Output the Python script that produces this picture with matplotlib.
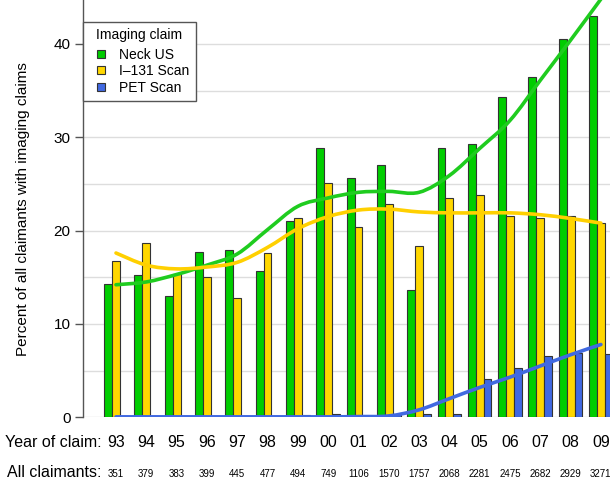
import numpy as np
import matplotlib
matplotlib.use('Agg')
import matplotlib.pyplot as plt
from matplotlib.path import Path
from matplotlib.patches import PathPatch
from matplotlib.lines import Line2D
from matplotlib import transforms

plt.rcParams['font.family'] = ['Liberation Sans', 'DejaVu Sans']

# yearly share of claimants (%) per imaging type
years = ['93', '94', '95', '96', '97', '98', '99', '00', '01',
         '02', '03', '04', '05', '06', '07', '08', '09']
claimants = [351, 379, 383, 399, 445, 477, 494, 749, 1106,
             1570, 1757, 2068, 2281, 2475, 2682, 2929, 3271]
neck_us = [14.25, 15.25, 13.0, 17.7, 17.9, 15.7, 21.0, 28.8, 25.6,
           27.0, 13.6, 28.8, 29.3, 34.3, 36.4, 40.5, 43.0]
i131_scan = [16.75, 18.65, 15.35, 15.0, 12.75, 17.6, 21.4, 25.1, 20.4,
             22.9, 18.4, 23.5, 23.8, 21.6, 21.3, 21.6, 20.8]
pet_scan = [0.1, 0.1, 0.1, 0.1, 0.1, 0.1, 0.2, 0.35, 0.1,
            0.2, 0.35, 0.35, 4.1, 5.3, 6.6, 6.9, 6.8]

# smoothed trend values at each year
neck_us_trend = [14.2, 14.5, 15.3, 16.3, 17.5, 20.1, 22.6, 23.5, 24.1,
                 24.2, 24.1, 25.9, 28.8, 31.8, 36.1, 40.4, 44.8]
i131_trend = [17.6, 16.3, 15.9, 16.1, 16.6, 18.2, 20.2, 21.5, 22.2,
              22.3, 22.0, 21.9, 21.9, 21.9, 21.7, 21.3, 20.8]
pet_trend = [0.05, 0.05, 0.05, 0.05, 0.05, 0.05, 0.05, 0.05, 0.08,
             0.15, 0.8, 2.0, 3.2, 4.3, 5.5, 6.7, 7.8]

GREEN = '#00cd00'
GOLD = '#ffd700'
BLUE = '#4169e1'
EDGE = '#333333'


def trend_patch(x, y, color):
    # Catmull-Rom curve through the trend values, drawn as cubic Beziers
    pts = np.column_stack([x, y]).astype(float)
    n = len(pts)
    verts = [pts[0]]
    codes = [Path.MOVETO]
    for i in range(n - 1):
        p0 = pts[max(i - 1, 0)]
        p1 = pts[i]
        p2 = pts[i + 1]
        p3 = pts[min(i + 2, n - 1)]
        verts += [p1 + (p2 - p0) / 6, p2 - (p3 - p1) / 6, p2]
        codes += [Path.CURVE4] * 3
    return PathPatch(Path(verts, codes), fill=False, edgecolor=color,
                     lw=2.6, capstyle='round', zorder=4)


fig = plt.figure(figsize=(6.10, 4.82), dpi=100)
ax = fig.add_axes([0.136, 0.1342, 0.864, 0.8658])

x = np.arange(len(years))
w = 0.26
ax.bar(x - w, neck_us, w, color=GREEN, edgecolor=EDGE, lw=0.8, zorder=3)
ax.bar(x, i131_scan, w, color=GOLD, edgecolor=EDGE, lw=0.8, zorder=3)
ax.bar(x + w, pet_scan, w, color=BLUE, edgecolor=EDGE, lw=0.8, zorder=3)

ax.add_patch(trend_patch(x, neck_us_trend, '#1fcc1f'))
ax.add_patch(trend_patch(x, i131_trend, '#ffd000'))
ax.add_patch(trend_patch(x, pet_trend, BLUE))

ax.set_xlim(-1.09, 16.3)
ax.set_ylim(0, 44.7)
ax.set_yticks([0, 10, 20, 30, 40])
ax.set_yticks(np.arange(5, 45, 10), minor=True)
ax.grid(axis='y', which='both', color='#dddddd', lw=1)
ax.set_axisbelow(True)
ax.tick_params(axis='y', which='major', length=6, width=1, color='#555555',
               labelsize=11, pad=3)
ax.tick_params(axis='y', which='minor', length=0)
ax.set_xticks([])
for side in ['top', 'right', 'bottom']:
    ax.spines[side].set_visible(False)
ax.spines['left'].set_color('#555555')
ax.spines['left'].set_linewidth(1)
ax.set_ylabel('Percent of all claimants with imaging claims', fontsize=11,
              labelpad=17)

handles = [Line2D([], [], ls='none', marker='s', markersize=6,
                  markerfacecolor=c, markeredgecolor=EDGE, markeredgewidth=0.8)
           for c in (GREEN, GOLD, BLUE)]
leg = ax.legend(handles, ['Neck US', 'I\u2013131 Scan', 'PET Scan'],
                title='Imaging claim', loc='upper left',
                bbox_to_anchor=(0.0, 0.948), borderaxespad=0,
                fontsize=10, title_fontsize=10, handlelength=1.7,
                handletextpad=0.45, labelspacing=0.2,
                borderpad=0.45, fancybox=False, framealpha=1,
                edgecolor='#555555')
leg.get_frame().set_linewidth(1)
leg._legend_box.sep = 4

# year and claimant counts under the bars
trans = transforms.blended_transform_factory(ax.transData, fig.transFigure)
fig.text(0.166, 0.0726, 'Year of claim:', ha='right', va='baseline',
         fontsize=11.5)
fig.text(0.166, 0.0104, 'All claimants:', ha='right', va='baseline',
         fontsize=11.5)
for i, yr in enumerate(years):
    ax.text(i, 0.0726, yr, transform=trans, ha='center', va='baseline',
            fontsize=11.5)
    ax.text(i, 0.0104, str(claimants[i]), transform=trans, ha='center',
            va='baseline', fontsize=7)

fig.savefig('out.png', dpi=100)
